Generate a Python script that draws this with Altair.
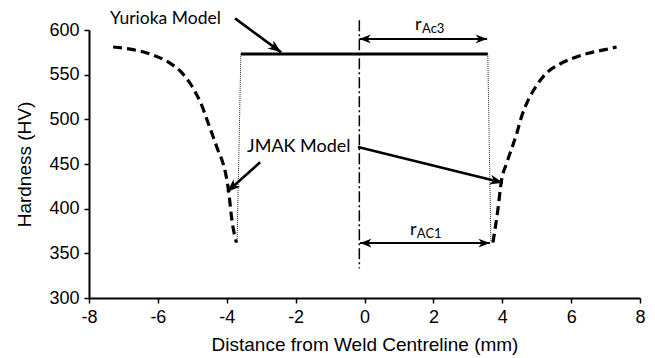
import math
import altair as alt
import pandas as pd

# ---- data ----
left_x = [-7.30, -6.72, -6.14, -5.65, -5.30, -5.01, -4.72, -4.55, -4.40, -4.26, -4.11, -4.01, -3.95, -3.85, -3.72]
left_y = [581, 578, 572, 563, 552, 537, 515, 497, 481, 466, 451, 435, 421, 387, 362]
right_x = [3.73, 3.87, 3.98, 4.13, 4.28, 4.42, 4.56, 4.76, 5.00, 5.29, 5.63, 6.02, 6.50, 6.98, 7.32]
right_y = [362, 398, 432, 451, 468, 484, 503, 522, 538, 552, 561, 568, 574, 578, 581]

yurioka_x = [-3.59, 3.58]
yurioka_y = [573, 573]

dotted_left_x = [-3.59, -3.70]
dotted_left_y = [573, 362]
dotted_right_x = [3.58, 3.67]
dotted_right_y = [573, 362]

centre_x = [-0.15, -0.15]
centre_y = [611, 333]

# arrows: start (x, y) -> tip (x, y)
arrows = {
    "yurioka": ((-3.76, 613), (-2.42, 575)),
    "jmak1": ((-3.03, 452), (-3.99, 419)),
    "jmak2": ((-0.19, 469), (4.02, 429)),
}
rac3 = ((-0.15, 590), (3.56, 590))
rac1 = ((-0.13, 361.5), (3.64, 361.5))

x_ticks = [-8, -6, -4, -2, 0, 2, 4, 6, 8]
y_ticks = [300, 350, 400, 450, 500, 550, 600]

W, H = 551, 268
XD = (-8, 8)
YD = (300, 600)

def px(x, y):
    return ((x - XD[0]) / (XD[1] - XD[0]) * W, H - (y - YD[0]) / (YD[1] - YD[0]) * H)

def ang(p0, p1):
    a = px(*p0)
    b = px(*p1)
    return math.degrees(math.atan2(b[1] - a[1], b[0] - a[0])) % 360

xs = alt.Scale(domain=list(XD))
ys = alt.Scale(domain=list(YD))
X = lambda f="x": alt.X(f"{f}:Q", scale=xs, axis=alt.Axis(values=x_ticks, title="Distance from Weld Centreline (mm)",
                                                         labelExpr="datum.value + ''"))
Y = lambda f="y": alt.Y(f"{f}:Q", scale=ys, axis=alt.Axis(values=y_ticks, title="Hardness (HV)"))

def linedf(xv, yv, name):
    return pd.DataFrame({"x": xv, "y": yv, "o": list(range(len(xv))), "g": name})

curves = pd.concat([linedf(left_x, left_y, "L"), linedf(right_x, right_y, "R")])
dashed = alt.Chart(curves).mark_line(color="black", strokeWidth=3.2, strokeDash=[9, 5], interpolate="monotone").encode(
    x=X(), y=Y(), detail="g:N", order="o:Q")

yur = alt.Chart(linedf(yurioka_x, yurioka_y, "Y")).mark_line(color="black", strokeWidth=3).encode(x=X(), y=Y())

dots = pd.concat([linedf(dotted_left_x, dotted_left_y, "a"), linedf(dotted_right_x, dotted_right_y, "b")])
dotted = alt.Chart(dots).mark_line(color="#222222", strokeWidth=1, strokeDash=[1, 1]).encode(
    x=X(), y=Y(), detail="g:N", order="o:Q")

centre = alt.Chart(linedf(centre_x, centre_y, "c")).mark_line(color="black", strokeWidth=1.5, strokeDash=[11, 3, 2, 3]).encode(
    x=X(), y=Y(), order="o:Q")

# arrow shafts
seg_rows = []
head_rows = []
for k, (p0, p1) in arrows.items():
    seg_rows.append({"x": p0[0], "y": p0[1], "x2": p1[0], "y2": p1[1], "w": 2.6})
    head_rows.append({"x": p1[0], "y": p1[1], "a": ang(p0, p1), "s": 700})
for p0, p1 in (rac3, rac1):
    seg_rows.append({"x": p0[0], "y": p0[1], "x2": p1[0], "y2": p1[1], "w": 2.0})
    head_rows.append({"x": p1[0], "y": p1[1], "a": ang(p0, p1), "s": 520})
    head_rows.append({"x": p0[0], "y": p0[1], "a": ang(p1, p0), "s": 520})
segs = pd.DataFrame(seg_rows)
heads = pd.DataFrame(head_rows)

shafts = alt.Chart(segs).mark_rule(color="black").encode(
    x=X(), y=Y(), x2="x2:Q", y2="y2:Q", strokeWidth=alt.StrokeWidth("w:Q", scale=None))

head_shape = "M0,0L-1,-0.38L-0.72,0L-1,0.38Z"
arrowheads = alt.Chart(heads).mark_point(shape=head_shape, filled=True, color="black", opacity=1, strokeWidth=0.5).encode(
    x=X(), y=Y(), angle=alt.Angle("a:Q", scale=None), size=alt.Size("s:Q", scale=None))

# labels
labels = pd.DataFrame({
    "x": [-7.39, -3.41, 1.466, 1.32],
    "y": [606.7, 463.4, 600.0, 370.5],
    "t": ["Yurioka Model", "JMAK Model", "r", "r"],
    "fs": [17.5, 18, 18, 18],
})
subs = pd.DataFrame({"x": [1.67, 1.52], "y": [596.6, 367.0], "t": ["Ac3", "AC1"]})

lab = alt.Chart(labels).mark_text(align="left", baseline="alphabetic", font="Lato", color="black").encode(
    x=X(), y=Y(), text="t:N", size=alt.Size("fs:Q", scale=None))
sub = alt.Chart(subs).mark_text(align="left", baseline="alphabetic", font="Lato", fontSize=13, color="black").encode(
    x=X(), y=Y(), text="t:N")

chart = alt.layer(dashed, yur, dotted, centre, shafts, arrowheads, lab, sub).properties(
    width=W, height=H,
    autosize=alt.AutoSizeParams(type="none"),
    padding={"left": 89, "top": 30, "right": 15, "bottom": 60},
).configure_view(stroke=None).configure_axis(
    grid=False, domainColor="black", domainWidth=2, tickColor="black", tickWidth=1.5, tickSize=5,
    labelFont="Liberation Sans", labelFontSize=18, labelColor="black", labelPadding=5,
    titleFont="Liberation Sans", titleFontSize=19, titleColor="black", titleFontWeight="normal",
).configure_axisX(titlePadding=9, labelFlush=False).configure_axisY(titlePadding=14)

chart.save("out.html", embed_options={"renderer": "svg", "actions": False})
